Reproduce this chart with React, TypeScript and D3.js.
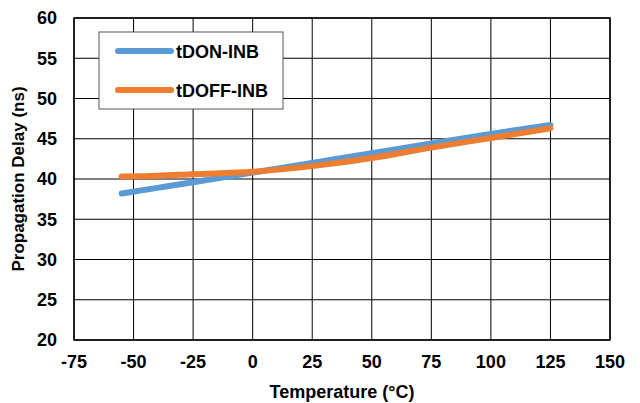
import React from "react";
import * as d3 from "d3";

const temps = [-55, -40, -25, 0, 25, 50, 75, 100, 125];
const tdonInb = [38.2, 38.9, 39.6, 40.8, 42.0, 43.2, 44.4, 45.6, 46.7];
const tdoffInb = [40.3, 40.4, 40.6, 40.9, 41.6, 42.6, 43.9, 45.1, 46.3];
const xTicks = [-75, -50, -25, 0, 25, 50, 75, 100, 125, 150];
const yTicks = [20, 25, 30, 35, 40, 45, 50, 55, 60];
const seriesNames = ["tDON-INB", "tDOFF-INB"];
const colors = ["#5B9BD5", "#ED7D31"];

export default function App() {
  const W = 640, H = 403;
  const L = 74, R = 610, T = 18, B = 340;
  const x = d3.scaleLinear().domain([-75, 150]).range([L, R]);
  const y = d3.scaleLinear().domain([20, 60]).range([B, T]);
  const line = d3
    .line<[number, number]>()
    .x((d) => x(d[0]))
    .y((d) => y(d[1]))
    .curve(d3.curveMonotoneX);
  const series = [tdonInb, tdoffInb];
  const font = "'Liberation Sans', Arial, sans-serif";
  return (
    <svg
      width={W}
      height={H}
      style={{ position: "absolute", left: 0, top: 0 }}
      fontFamily={font}
      fontWeight="bold"
    >
      <rect width={W} height={H} fill="#fff" />
      {xTicks.map((t) => (
        <line key={"gx" + t} x1={x(t)} x2={x(t)} y1={T} y2={B} stroke="#000" strokeWidth={1} />
      ))}
      {yTicks.map((t) => (
        <line key={"gy" + t} x1={L} x2={R} y1={y(t)} y2={y(t)} stroke="#000" strokeWidth={1} />
      ))}
      <rect x={L} y={T} width={R - L} height={B - T} fill="none" stroke="#000" strokeWidth={1.5} />
      {yTicks.map((t) => (
        <text key={"ty" + t} x={57} y={y(t)} dy="0.35em" textAnchor="end" fontSize={18}>
          {t}
        </text>
      ))}
      {xTicks.map((t) => (
        <text key={"tx" + t} x={x(t)} y={368} textAnchor="middle" fontSize={18}>
          {t}
        </text>
      ))}
      <text x={(L + R) / 2} y={398} textAnchor="middle" fontSize={18}>
        Temperature (°C)
      </text>
      <text
        transform={`translate(24,${(T + B) / 2}) rotate(-90)`}
        textAnchor="middle"
        fontSize={17}
      >
        Propagation Delay (ns)
      </text>
      {series.map((s, i) => (
        <path
          key={"s" + i}
          d={line(temps.map((t, j) => [t, s[j]] as [number, number])) || ""}
          fill="none"
          stroke={colors[i]}
          strokeWidth={6}
          strokeLinecap="round"
        />
      ))}
      <rect x={99} y={32} width={184} height={77} fill="#fff" stroke="#555" strokeWidth={1} />
      {seriesNames.map((n, i) => (
        <g key={"lg" + i}>
          <line
            x1={118}
            x2={171}
            y1={51 + i * 39}
            y2={51 + i * 39}
            stroke={colors[i]}
            strokeWidth={6}
            strokeLinecap="round"
          />
          <text x={176} y={52 + i * 39} dy="0.35em" fontSize={18}>
            {n}
          </text>
        </g>
      ))}
    </svg>
  );
}
